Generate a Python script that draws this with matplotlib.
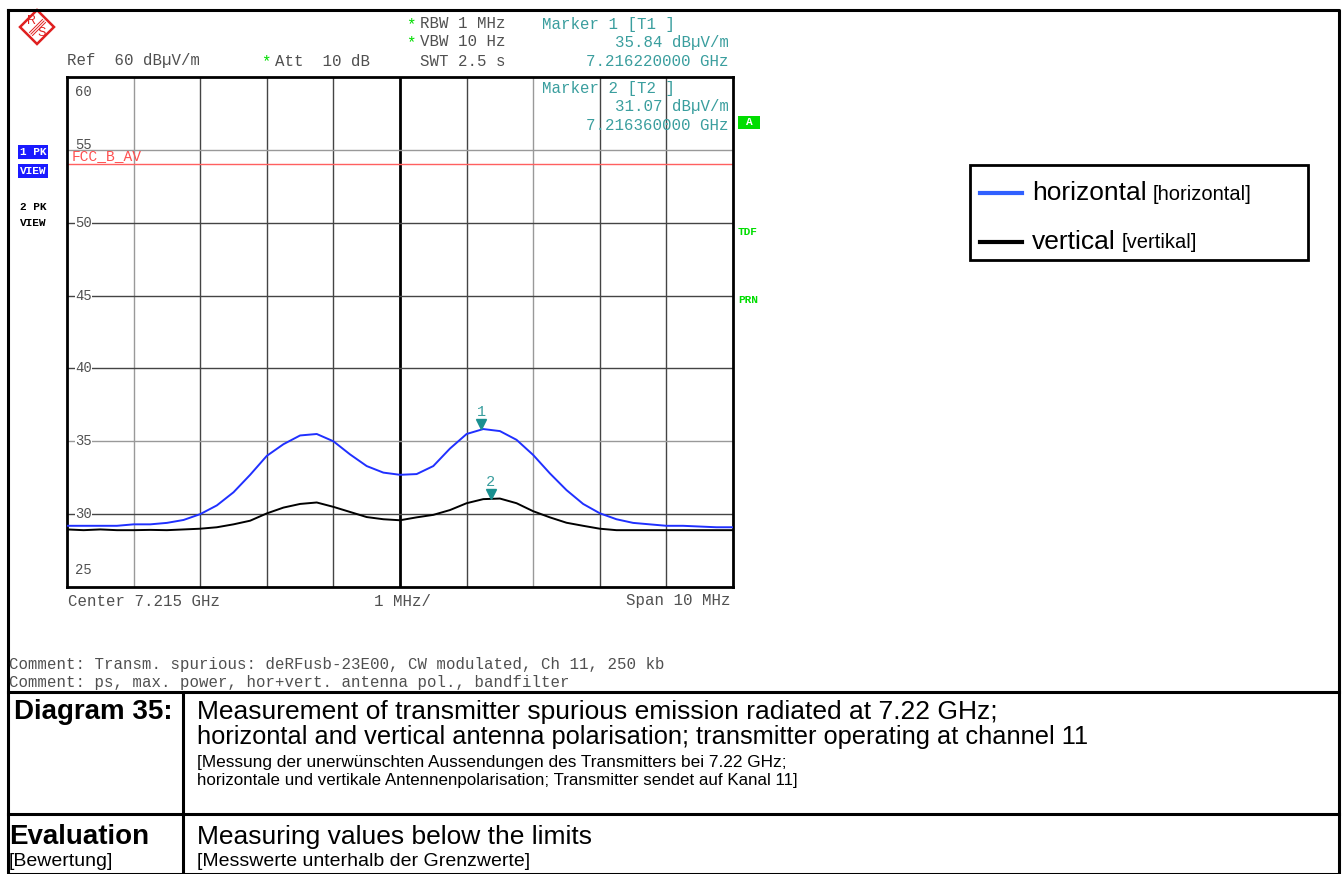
import numpy as np
import matplotlib
matplotlib.use('Agg')
import matplotlib.pyplot as plt
from matplotlib import transforms
from matplotlib.patches import Polygon, Rectangle

# trace data (offset from 7.215 GHz centre, MHz) and levels in dBuV/m
offset_mhz = [-5.0, -4.75, -4.5, -4.25, -4.0, -3.75, -3.5, -3.25, -3.0, -2.75,
              -2.5, -2.25, -2.0, -1.75, -1.5, -1.25, -1.0, -0.75, -0.5, -0.25,
              0.0, 0.25, 0.5, 0.75, 1.0, 1.25, 1.5, 1.75, 2.0, 2.25,
              2.5, 2.75, 3.0, 3.25, 3.5, 3.75, 4.0, 4.25, 4.5, 4.75, 5.0]
horizontal_db = [29.2, 29.2, 29.2, 29.2, 29.3, 29.3, 29.4, 29.6, 30.0, 30.6,
                 31.5, 32.7, 34.0, 34.8, 35.4, 35.5, 35.0, 34.1, 33.3, 32.85,
                 32.7, 32.75, 33.3, 34.5, 35.5, 35.84, 35.7, 35.1, 34.06, 32.8,
                 31.65, 30.7, 30.06, 29.65, 29.4, 29.3, 29.2, 29.2, 29.15, 29.1, 29.1]
vertical_db = [28.95, 28.9, 28.95, 28.9, 28.9, 28.92, 28.9, 28.95, 29.0, 29.1,
               29.3, 29.55, 30.05, 30.45, 30.7, 30.8, 30.5, 30.15, 29.8, 29.65,
               29.58, 29.78, 29.95, 30.28, 30.75, 31.03, 31.07, 30.75, 30.2, 29.78,
               29.41, 29.2, 29.0, 28.9, 28.9, 28.9, 28.9, 28.9, 28.9, 28.9, 28.9]
limit_db = 54.0
marker_mhz = [1.22, 1.36]
marker_db = [35.84, 31.07]
marker_names = ['1', '2']
y_ticks = [60, 55, 50, 45, 40, 35, 30, 25]

W, H = 1343, 874
fig = plt.figure(figsize=(W / 100, H / 100), dpi=100)
fig.patch.set_facecolor('white')

mono = 'Liberation Mono'
sans = 'Liberation Sans'
txt_gray = '#505050'
teal = '#3a9e9e'
green = '#00dd00'
mono_size = 11.3

# main trace axes
ax = fig.add_axes([67 / W, 1 - 587 / H, 666 / W, 510 / H])
ax.set_xlim(-5, 5)
ax.set_ylim(25, 60)
ax.set_xticks([])
ax.set_yticks([])
for s in ax.spines.values():
    s.set_linewidth(2)
    s.set_color('black')

for xv in range(-4, 5):
    if xv == 0:
        ax.axvline(xv, color='black', lw=2, zorder=1)
    else:
        ax.axvline(xv, color='#999999' if xv in (-4, 2) else '#444444', lw=1, zorder=1)
for yv in y_ticks[1:-1]:
    ax.axhline(yv, color='#999999' if yv in (55, 35) else '#444444', lw=1, zorder=1)

ax.axhline(limit_db, color='#ff6060', lw=1, zorder=2)

ax.plot(offset_mhz, horizontal_db, color='#2030ff', lw=1.4, zorder=4)
ax.plot(offset_mhz, vertical_db, color='black', lw=1.4, zorder=3)

for mx, my, name in zip(marker_mhz, marker_db, marker_names):
    tri = transforms.offset_copy(ax.transData, fig=fig, x=0, y=3.5, units='points')
    ax.plot([mx], [my], marker='v', color='#1a9090', ms=7, transform=tri, zorder=5)
    ax.annotate(name, xy=(mx, my), xytext=(0, 12), textcoords='offset points',
                ha='center', va='center', color=teal, fontsize=11, family=mono, zorder=5)

# y labels drawn inside the grid
for yv in y_ticks:
    if yv == 60:
        ax.text(0.012, 0.985, '60', transform=ax.transAxes, ha='left', va='top',
                color=txt_gray, fontsize=10, family=mono)
    elif yv == 25:
        ax.text(0.012, 0.02, '25', transform=ax.transAxes, ha='left', va='bottom',
                color=txt_gray, fontsize=10, family=mono)
    elif yv == 55:
        ax.text(0.012, yv + 0.35, str(yv), transform=ax.get_yaxis_transform(), ha='left',
                va='center', color=txt_gray, fontsize=10, family=mono, zorder=3)
    else:
        ax.text(0.012, yv, str(yv), transform=ax.get_yaxis_transform(), ha='left', va='center',
                color=txt_gray, fontsize=10, family=mono, zorder=3,
                bbox=dict(facecolor='white', edgecolor='none', pad=0.3))

# decoration layer in pixel coordinates (origin top-left)
deco = fig.add_axes([0, 0, 1, 1])
deco.set_xlim(0, W)
deco.set_ylim(H, 0)
deco.axis('off')
deco.set_facecolor('none')


def t(x, y, s, **kw):
    kw.setdefault('family', mono)
    kw.setdefault('fontsize', mono_size)
    kw.setdefault('color', txt_gray)
    kw.setdefault('va', 'center')
    return deco.text(x, y, s, **kw)


t(72, 156.5, 'FCC_B_AV', color='#ff5050', fontsize=10.5)

# outer frame and table
lw_frame = 2.2
deco.plot([8, 1339, 1339, 8, 8], [10, 10, 874, 874, 10], color='black', lw=lw_frame)
deco.plot([8, 1339], [692, 692], color='black', lw=lw_frame)
deco.plot([8, 1339], [814, 814], color='black', lw=lw_frame)
deco.plot([183, 183], [692, 874], color='black', lw=lw_frame)

# R&S logo
deco.add_patch(Polygon([[37, 10], [54, 27], [37, 44], [20, 27]], closed=True,
                       fill=False, edgecolor='#e02020', lw=1.8))
for d in (-1.5, 0, 1.5):
    deco.plot([31 + d, 44 + d], [34 + d, 21 + d], color='#e02020', lw=0.7)
t(32, 21, 'R', family=sans, fontsize=9, color='#e02020', ha='center')
t(41.5, 33, 'S', family=sans, fontsize=9, color='#e02020', ha='center')

# header
t(411, 25, '*', color=green, ha='center')
t(420, 24, 'RBW 1 MHz')
t(411, 43, '*', color=green, ha='center')
t(420, 42, 'VBW 10 Hz')
t(420, 61, 'SWT 2.5 s')
t(67, 61, 'Ref  60 dB\u00b5V/m')
t(266, 62, '*', color=green, ha='center')
t(275, 61, 'Att  10 dB')
t(542, 24, 'Marker 1 [T1 ]', color=teal)
t(729, 42, '35.84 dB\u00b5V/m', color=teal, ha='right')
t(729, 61, '7.216220000 GHz', color=teal, ha='right')
t(542, 89, 'Marker 2 [T2 ]', color=teal)
t(729, 107, '31.07 dB\u00b5V/m', color=teal, ha='right')
t(729, 125, '7.216360000 GHz', color=teal, ha='right')

# side annotations
t(20, 152, '1 PK', color='white', fontsize=8, weight='bold',
  bbox=dict(facecolor='#1a1aff', edgecolor='none', pad=1.2))
t(20, 171, 'VIEW', color='white', fontsize=8, weight='bold',
  bbox=dict(facecolor='#1a1aff', edgecolor='none', pad=1.2))
t(20, 207, '2 PK', color='black', fontsize=8, weight='bold')
t(20, 223, 'VIEW', color='black', fontsize=8, weight='bold')
deco.add_patch(Rectangle((738, 116), 22, 13, facecolor=green, edgecolor='none'))
t(749, 122, 'A', color='white', fontsize=8, weight='bold', ha='center')
t(738, 232, 'TDF', color=green, fontsize=8, weight='bold')
t(738, 300, 'PRN', color=green, fontsize=8, weight='bold')

# bottom of screen
t(68, 601, 'Center 7.215 GHz')
t(374, 601, '1 MHz/')
t(731, 601, 'Span 10 MHz', ha='right')
t(9, 664, 'Comment: Transm. spurious: deRFusb-23E00, CW modulated, Ch 11, 250 kb')
t(9, 682, 'Comment: ps, max. power, hor+vert. antenna pol., bandfilter')

# legend
deco.add_patch(Rectangle((970, 165), 338, 95, facecolor='white', edgecolor='black', lw=2))
deco.plot([980, 1022], [193, 193], color='#3060ff', lw=3)
deco.plot([980, 1022], [242, 242], color='black', lw=3)
leg1 = t(1032, 193, 'horizontal', family=sans, fontsize=19, color='black')
leg2 = t(1032, 242, 'vertical', family=sans, fontsize=19, color='black')

# table text
t(14, 712, 'Diagram 35:', family=sans, fontsize=20, weight='bold', color='black')
t(197, 712, 'Measurement of transmitter spurious emission radiated at 7.22 GHz;',
  family=sans, fontsize=19, color='black')
t(197, 737, 'horizontal and vertical antenna polarisation; transmitter operating at channel 11',
  family=sans, fontsize=18.3, color='black')
t(197, 763, '[Messung der unerw\u00fcnschten Aussendungen des Transmitters bei 7.22 GHz;',
  family=sans, fontsize=12.4, color='black')
t(197, 781, 'horizontale und vertikale Antennenpolarisation; Transmitter sendet auf Kanal 11]',
  family=sans, fontsize=12.2, color='black')
t(9, 837, 'Evaluation', family=sans, fontsize=20, weight='bold', color='black')
t(9, 862, '[Bewertung]', family=sans, fontsize=14, color='black')
t(197, 837, 'Measuring values below the limits', family=sans, fontsize=19, color='black')
t(197, 862, '[Messwerte unterhalb der Grenzwerte]', family=sans, fontsize=14, color='black')

# smaller bracket words in the legend, placed after the big words
fig.canvas.draw()
r = fig.canvas.get_renderer()
for big, word, y in ((leg1, '[horizontal]', 194), (leg2, '[vertikal]', 243)):
    x_end = big.get_window_extent(r).x1
    t(x_end + 6, y, word, family=sans, fontsize=14.5, color='black')

fig.savefig('out.png', dpi=100)
